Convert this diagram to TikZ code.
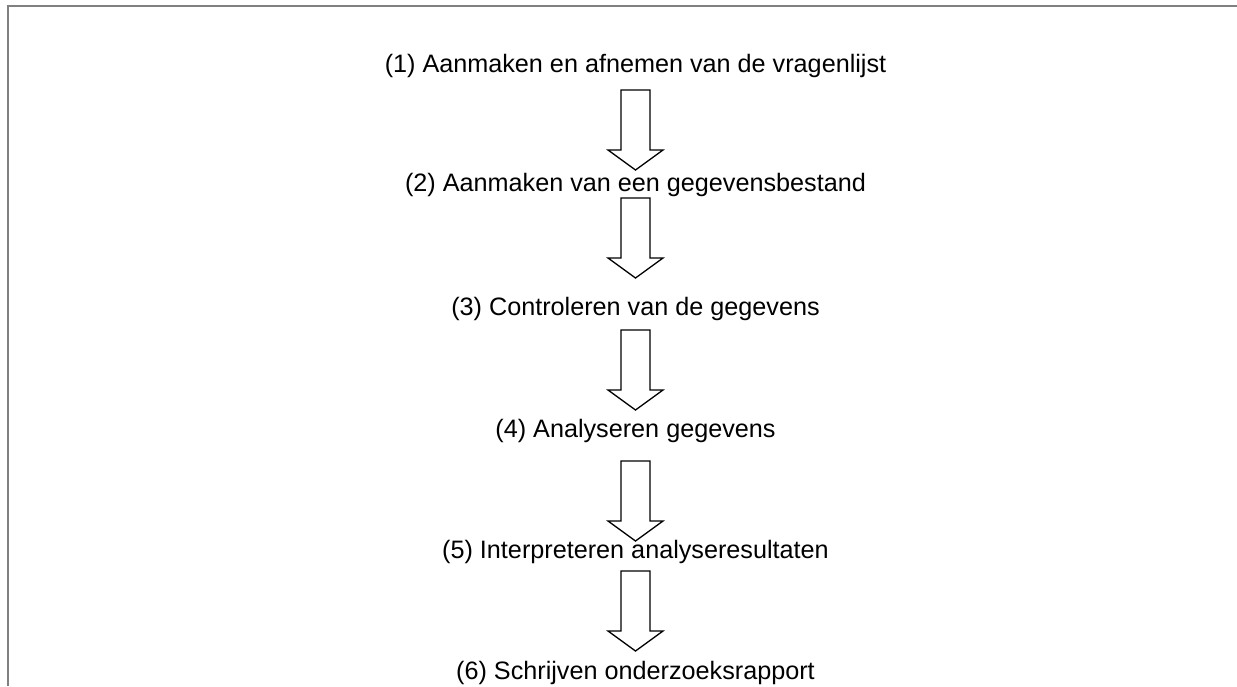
\documentclass[tikz,border=0pt]{standalone}
\usepackage{fontspec}
\setmainfont{Liberation Sans}
\begin{document}
\begin{tikzpicture}[x=1pt,y=-1pt,
  step label/.style={anchor=base, inner sep=0pt, font=\fontsize{25.2}{30}\selectfont},
  frame line/.style={draw=black!50, line width=1.8pt},
  blockarrow/.pic={
    \draw[line width=1.3pt, line join=miter, fill=white]
      (-14.5,0) -- (14.5,0) -- (14.5,60) -- (27.5,60) -- (0,80)
      -- (-27.5,60) -- (-14.5,60) -- cycle;
  }]
  \useasboundingbox (0,0) rectangle (1237,686);
  % open frame: top and left edges only
  \draw[frame line] (7.8,686) -- (7.8,5.8) -- (1240,5.8);

  \node[step label] (s1) at (635.5,72)  {(1) Aanmaken en afnemen van de vragenlijst};
  \node[step label] (s2) at (635.5,191) {(2) Aanmaken van een gegevensbestand};
  \node[step label] (s3) at (635.5,315) {(3) Controleren van de gegevens};
  \node[step label] (s4) at (635.5,437) {(4) Analyseren gegevens};
  \node[step label] (s5) at (635.5,558) {(5) Interpreteren analyseresultaten};
  \node[step label] (s6) at (635.5,679) {(6) Schrijven onderzoeksrapport};

  % block arrows between the steps
  \pic at (635.5,90)  {blockarrow};
  \pic at (635.5,198) {blockarrow};
  \pic at (635.5,330) {blockarrow};
  \pic at (635.5,461) {blockarrow};
  \pic at (635.5,571) {blockarrow};
\end{tikzpicture}
\end{document}
